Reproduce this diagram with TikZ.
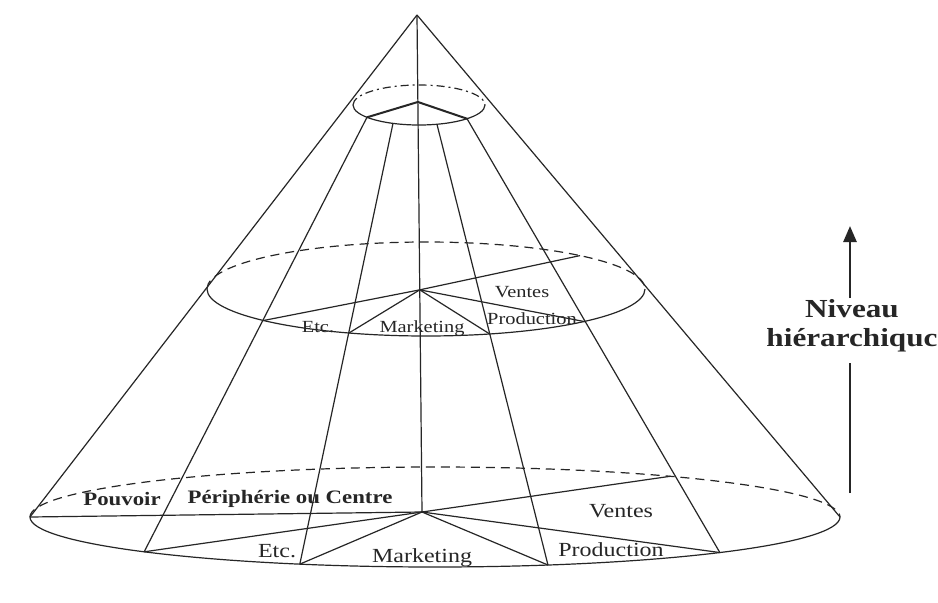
\documentclass[tikz,border=0pt]{standalone}
\usepackage{fontspec}
\setmainfont{Liberation Serif}[FakeStretch=1.2]
\usetikzlibrary{calc,arrows.meta}
\definecolor{ink}{HTML}{262626}
\begin{document}
\begin{tikzpicture}[x=1pt,y=-1pt,
  edge/.style={line width=1.2pt, draw=ink},
  hidden/.style={edge, dash pattern=on 9pt off 6pt},
  hiddentop/.style={edge, dash pattern=on 8pt off 4pt on 2pt off 4pt},
  ridge/.style={line width=2pt, draw=ink, line join=round},
  lowlabel/.style={font=\fontsize{20}{24}\selectfont, text=ink, inner sep=0pt},
  midlabel/.style={font=\fontsize{17}{20}\selectfont, text=ink, inner sep=0pt},
  boldlabel/.style={font=\bfseries\fontsize{19}{22}\selectfont, text=ink, inner sep=0pt},
  axislabel/.style={font=\bfseries\fontsize{26}{29}\selectfont, text=ink, align=center, inner sep=0pt},
  axisline/.style={line width=2.6pt, draw=ink},
]
\useasboundingbox[fill=white] (0,0) rectangle (938,603);

% apex and axis
\coordinate (apex) at (417,15);
\coordinate (C0) at (422,512);
\coordinate (T0) at ($(apex)!0.175!(C0)$);
\coordinate (M0) at ($(apex)!0.553!(C0)$);

% ellipse centres
\coordinate (tc) at (419,105);
\coordinate (mc) at (426,289);
\coordinate (bc) at (435,517);

% points on the base ellipse
\coordinate (L)  at ($(bc)+(180:405 and 50)$);
\coordinate (R)  at ($(bc)+(0:405 and 50)$);
\coordinate (F1) at ($(bc)+(135.9:405 and 50)$);
\coordinate (F2) at ($(bc)+(109.5:405 and 50)$);
\coordinate (F3) at ($(bc)+(73.8:405 and 50)$);
\coordinate (F4) at ($(bc)+(45.3:405 and 50)$);
\coordinate (B)  at ($(bc)+(305.5:405 and 50)$);

% points on the top ellipse
\coordinate (T1) at ($(tc)+(142:66 and 20)$);
\coordinate (T2) at ($(tc)+(113.2:66 and 20)$);
\coordinate (T3) at ($(tc)+(74.2:66 and 20)$);
\coordinate (T4) at ($(tc)+(43.3:66 and 20)$);

% points on the middle ellipse (on the generatrices)
\coordinate (M1) at ($(T1)!0.468!(F1)$);
\coordinate (M2) at ($(T2)!0.476!(F2)$);
\coordinate (M3) at ($(T3)!0.476!(F3)$);
\coordinate (M4) at ($(T4)!0.468!(F4)$);
\coordinate (Bm) at ($(mc)+(314.7:219 and 47)$);

% ellipses: visible front, hidden back
\draw[edge] ($(tc)+(0:66 and 20)$) arc[start angle=0, end angle=180, x radius=66, y radius=20];
\draw[hiddentop] ($(tc)+(180:66 and 20)$) arc[start angle=180, end angle=360, x radius=66, y radius=20];
\draw[edge] ($(mc)+(0:219 and 47)$) arc[start angle=0, end angle=180, x radius=219, y radius=47];
\draw[hidden] ($(mc)+(180:219 and 47)$) arc[start angle=180, end angle=360, x radius=219, y radius=47];
\draw[edge] (R) arc[start angle=0, end angle=180, x radius=405, y radius=50];
\draw[hidden] (L) arc[start angle=180, end angle=360, x radius=405, y radius=50];

% outline and axis
\draw[edge] (apex) -- (L);
\draw[edge] (apex) -- (R);
\draw[edge] (apex) -- (C0);

% generatrices
\draw[edge] (T1) -- (F1);
\draw[edge] (T2) -- (F2);
\draw[edge] (T3) -- (F3);
\draw[edge] (T4) -- (F4);

% top section
\draw[ridge] (T1) -- (T0) -- (T4);

% middle section
\draw[edge] (M1) -- (M0) -- (Bm);
\draw[edge] (M0) -- (M2);
\draw[edge] (M0) -- (M3);
\draw[edge] (M0) -- (M4);

% base section
\draw[edge] (C0) -- (L);
\draw[edge] (C0) -- (F1);
\draw[edge] (C0) -- (F2);
\draw[edge] (C0) -- (F3);
\draw[edge] (C0) -- (F4);
\draw[edge] (C0) -- (B);

% middle labels
\node[midlabel] (mventes) at (522,292) {Ventes};
\node[midlabel] (mprod) at (532,319) {Production};
\node[midlabel] (mmark) at (422,328) {Marketing};
\node[midlabel] (metc) at (318,327) {Etc.};

% base labels
\node[boldlabel] (pouvoir) at (122,499) {Pouvoir};
\node[boldlabel] (periph) at (290,499) {Périphérie ou Centre};
\node[lowlabel] (bventes) at (621,511) {Ventes};
\node[lowlabel] (bprod) at (611,550) {Production};
\node[lowlabel] (bmark) at (422,558) {Marketing};
\node[lowlabel] (betc) at (277,551) {Etc.};

% hierarchy axis
\node[axislabel] (lvl) at (852,326) {Niveau\\hiérarchiquc};
\coordinate (a1) at (850,493);
\coordinate (a2) at (850,363);
\coordinate (a3) at (850,298);
\coordinate (a4) at (850,226);
\draw[axisline] (a1) -- (a2);
\draw[axisline, -{Triangle[length=16pt, width=13pt]}] (a3) -- (a4);
\end{tikzpicture}
\end{document}
